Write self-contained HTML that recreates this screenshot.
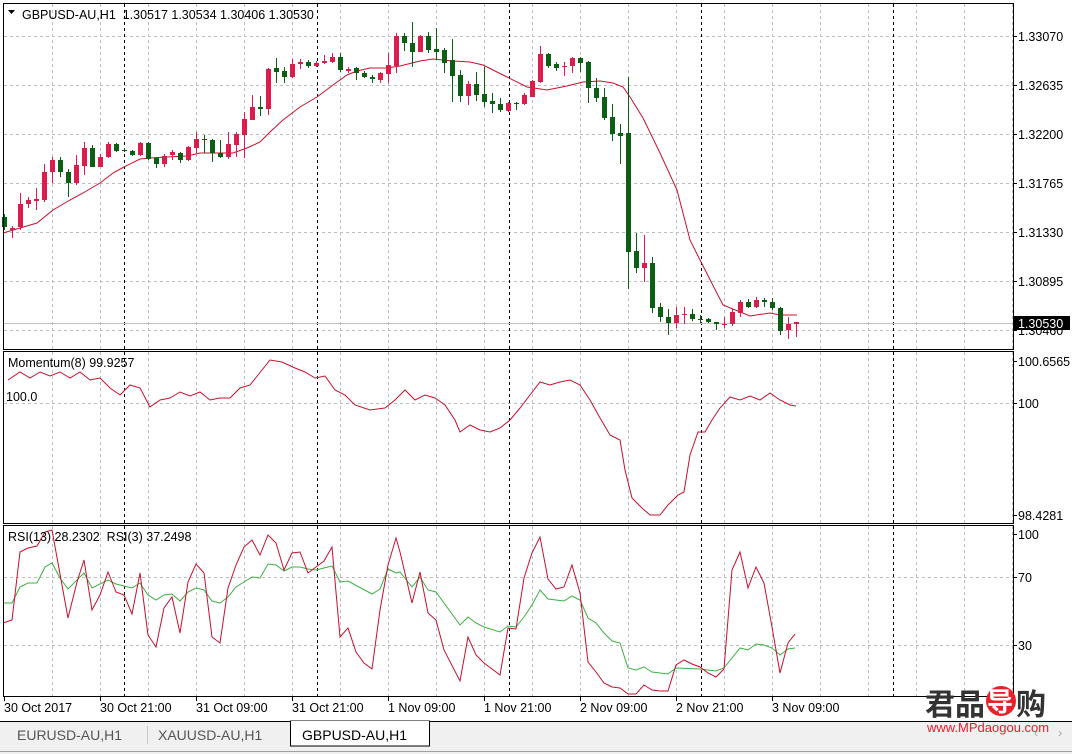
<!DOCTYPE html>
<html><head><meta charset="utf-8"><style>
html,body{margin:0;padding:0;background:#fff;width:1072px;height:754px;overflow:hidden}
svg text{font-family:"Liberation Sans","Noto Sans CJK SC",sans-serif;font-size:12.5px;fill:#000}
</style></head><body>
<svg id="s" width="1072" height="754" xmlns="http://www.w3.org/2000/svg">
<rect x="0" y="0" width="1072" height="754" fill="#fff"/>
<g id="grid" stroke="#bdbdbd" stroke-dasharray="3,3" stroke-width="1"></g>
<g id="days" stroke="#000" stroke-dasharray="3,3" stroke-width="1"></g>
<line x1="3" y1="323.5" x2="1013" y2="323.5" stroke="#c0c0c0"/>
<polyline id="ma" fill="none" stroke="#c8102e" stroke-width="1" points="3,233 20,228 37,223 53,210 70,200 83,193 100,183 113,173 124,167 140,159 150,158 167,157 187,156 200,153 217,153 233,153 247,148 260,142 270,132 283,120 300,107 317,97 333,85 347,75 357,71 370,68 387,68 400,66 420,61 433,59 453,61 470,62 483,65 507,77 527,87 547,90 567,86 583,82 600,81 613,83 623,87 630,97 643,118 660,153 677,190 690,240 700,260 723,305 750,316 770,313 780,315 797,315"/>
<g id="candles"></g>
<polyline fill="none" stroke="#c8102e" stroke-width="1" points="8,380 20,372 30,378 40,372 50,376 60,372 70,378 80,372 90,380 100,378 110,388 120,395 130,385 140,388 150,407 160,400 170,398 180,392 190,396 200,392 210,400 220,398 230,398 240,388 250,385 262,370 270,360 282,362 295,368 305,372 315,378 325,376 335,390 345,395 355,405 370,410 385,408 395,400 405,390 415,400 425,395 435,398 445,405 455,420 460,432 470,425 480,430 490,432 500,428 510,420 520,408 530,395 540,382 550,385 560,382 570,380 580,385 590,400 600,418 610,435 620,440 625,470 632,498 642,508 650,515 660,515 668,505 678,495 684,492 690,455 698,432 705,432 712,420 720,408 730,397 740,400 750,396 760,400 770,393 780,400 790,405 796,406"/>
<polyline fill="none" stroke="#3cb043" stroke-width="1" points="3,603 12,603 20,587 28,583 37,583 45,567 52,563 60,578 68,589 84,573 92,588 108,580 116,584 132,588 140,583 148,595 156,600 164,595 172,594 180,601 188,592 196,588 204,590 212,601 220,603 228,597 236,587 252,577 260,578 268,564 276,565 284,571 292,567 300,567 308,569 316,570 332,566 340,582 348,581 372,594 380,589 388,569 396,573 400,572 412,587 420,577 428,590 436,592 460,625 468,617 476,623 484,627 500,632 508,626 516,627 524,617 532,605 540,590 548,599 564,601 572,596 580,600 588,618 596,623 604,633 612,641 620,643 628,668 636,670 644,667 652,672 668,674 676,668 700,669 716,671 724,668 740,648 748,650 756,644 764,645 772,648 780,655 788,649 795,648"/>
<polyline fill="none" stroke="#c8102e" stroke-width="1" points="3,623 12,620 20,552 28,548 37,546 45,532 52,530 68,618 77,582 84,560 92,610 100,595 108,572 116,592 124,595 132,614 140,573 148,635 156,647 164,608 172,597 180,633 188,582 196,564 204,573 212,637 220,643 228,588 236,565 244,547 252,540 260,555 268,535 276,543 284,570 292,553 300,552 308,573 316,567 324,561 332,547 340,637 348,628 356,652 364,663 372,669 380,610 388,565 396,538 400,552 412,603 420,572 428,613 436,620 444,650 460,681 468,637 476,655 484,663 500,675 508,628 516,629 524,578 532,553 540,537 548,579 556,589 564,587 572,565 580,593 588,662 596,672 604,683 612,687 620,688 628,694 636,694 644,685 652,690 660,691 668,691 676,665 684,660 692,664 700,667 708,673 716,677 724,669 732,570 740,552 748,588 756,567 764,583 772,627 780,673 788,643 795,634"/>
<!-- frames -->
<rect x="3.5" y="3.5" width="1010" height="346" fill="none" stroke="#000"/>
<rect x="3.5" y="351.5" width="1010" height="172" fill="none" stroke="#000"/>
<rect x="3.5" y="525.5" width="1010" height="171" fill="none" stroke="#000"/>
<g id="ticks" stroke="#000"></g>
<!-- header -->
<path d="M8,10 L15,10 L11.5,14 Z" fill="#000"/>
<text x="22" y="19" xml:space="preserve">GBPUSD-AU,H1  1.30517 1.30534 1.30406 1.30530</text>
<text x="8" y="367">Momentum(8) 99.9257</text>
<text x="6" y="401">100.0</text>
<text x="8" y="541" xml:space="preserve">RSI(13) 28.2302  RSI(3) 37.2498</text>
<!-- right axis -->
<text x="1018" y="41">1.33070</text>
<text x="1018" y="90">1.32635</text>
<text x="1018" y="139">1.32200</text>
<text x="1018" y="188">1.31765</text>
<text x="1018" y="237">1.31330</text>
<text x="1018" y="286">1.30895</text>
<text x="1018" y="335">1.30460</text>
<rect x="1014" y="316" width="56" height="14" fill="#000"/>
<text x="1018" y="328" style="fill:#fff">1.30530</text>
<text x="1018" y="366">100.6565</text>
<text x="1018" y="408">100</text>
<text x="1018" y="520">98.4281</text>
<text x="1018" y="539">100</text>
<text x="1018" y="582">70</text>
<text x="1018" y="650">30</text>
<!-- time axis -->
<text x="4" y="712">30 Oct 2017</text>
<text x="100" y="712">30 Oct 21:00</text>
<text x="196" y="712">31 Oct 09:00</text>
<text x="292" y="712">31 Oct 21:00</text>
<text x="388" y="712">1 Nov 09:00</text>
<text x="484" y="712">1 Nov 21:00</text>
<text x="580" y="712">2 Nov 09:00</text>
<text x="676" y="712">2 Nov 21:00</text>
<text x="772" y="712">3 Nov 09:00</text>
<!-- tabs -->
<rect x="0" y="721" width="1072" height="33" fill="#f0f0f0"/>
<line x1="0" y1="721.5" x2="1072" y2="721.5" stroke="#000"/>
<line x1="0" y1="751.5" x2="1072" y2="751.5" stroke="#a0a0a0"/>
<line x1="147.5" y1="726" x2="147.5" y2="744" stroke="#c8c8c8"/>
<rect x="290.5" y="721" width="139" height="25" fill="#fff" stroke="#000"/>
<line x1="291" y1="721.5" x2="429" y2="721.5" stroke="#fff"/>
<text x="17" y="740" style="font-size:14px;fill:#555">EURUSD-AU,H1</text>
<text x="158" y="740" style="font-size:14px;fill:#555">XAUUSD-AU,H1</text>
<text x="302" y="740" style="font-size:14px">GBPUSD-AU,H1</text>
<text x="1034" y="737" style="fill:#aaa">‹</text><text x="1058" y="737" style="fill:#aaa">›</text>
<!-- watermark -->
<text x="925" y="715" style="font-size:30px;font-weight:bold;fill:#333">君品</text>
<circle cx="1001" cy="701" r="15" fill="#e8202a"/>
<text x="987" y="711" style="font-size:26px;font-weight:bold;fill:#fff">导</text>
<text x="1016" y="715" style="font-size:30px;font-weight:bold;fill:#333">购</text>
<text x="927" y="732" style="font-size:13px;fill:#e8202a">www.MPdaogou.com</text>
</svg>
<script>
var NS="http://www.w3.org/2000/svg";
function el(p,t,a){var e=document.createElementNS(NS,t);for(var k in a)e.setAttribute(k,a[k]);p.appendChild(e);return e;}
var g=document.getElementById('grid');
for(var x=52;x<1013;x+=48){[[4,349],[352,523],[526,696]].forEach(function(r){el(g,'line',{x1:x+.5,y1:r[0],x2:x+.5,y2:r[1]});});}
[36,85,134,183,232,281,330].forEach(function(y){el(g,'line',{x1:4,y1:y+.5,x2:1013,y2:y+.5});});
[403,577,645].forEach(function(y){el(g,'line',{x1:4,y1:y+.5,x2:1013,y2:y+.5});});
var d=document.getElementById('days');
[124,317,509,701,893].forEach(function(x){el(d,'line',{x1:x+.5,y1:4,x2:x+.5,y2:696});});
var tk=document.getElementById('ticks');
[36,85,134,183,232,281,330,361,403,515,534,577,645].forEach(function(y){el(tk,'line',{x1:1013,y1:y+.5,x2:1017,y2:y+.5});});
[4,100,196,292,388,484,580,676,772].forEach(function(x){el(tk,'line',{x1:x+.5,y1:697,x2:x+.5,y2:701});});
var C=[
"g214,217,227,230","r226,228,230,238","r193,204,227,230","r197,200,204,208","r188,199,201,210","r164,172,200,202","r157,160,172,183","g157,160,172,177","g169,172,183,197","r155,165,183,185",
"r142,148,166,175","g145,148,167,167","r154,157,167,167","r142,144,157,158","g143,144,151,152","g148,150,151,152","g150,151,155,156","r142,143,155,156","g142,143,159,160","g157,158,164,168",
"r154,156,164,167","r150,152,155,160","g152,153,160,163","r146,147,160,161","r132,139,148,153","g135,139,140,153","g139,140,153,162","g140,153,157,158","r132,144,157,159","r132,134,145,157",
"r112,119,135,158","r95,107,120,120","g96,107,109,116","r68,69,109,115","g58,68,72,83","g67,71,77,83","r59,64,77,78","r59,62,64,69","g60,62,66,68","r61,63,66,67",
"r55,61,63,64","r53,57,62,63","g53,57,70,72","r67,69,71,73","g67,68,73,80","g71,73,77,78","g75,77,79,83","r72,73,80,83","r53,65,74,83","r33,36,66,73",
"g33,36,43,51","g22,43,52,67","r35,36,52,52","g32,36,50,53","g28,49,52,60","g48,50,63,73","g39,60,76,102","g70,75,96,102","r81,84,96,105","g72,84,95,101",
"g67,94,102,107","g93,101,104,113","g98,104,110,112","r102,103,111,112","g102,103,104,110","r93,95,104,105","r80,81,97,97","r46,54,82,83","g53,54,66,68","g62,64,68,71",
"r62,66,67,76","r57,58,66,73","g57,58,63,72","g61,62,88,103","g78,88,98,102","g88,97,118,120","g104,117,134,141","g124,133,136,164","g77,133,252,289","g233,251,268,273",
"r235,263,268,282","g257,263,308,313","g303,307,317,322","g309,317,323,335","r307,315,323,328","r307,314,315,324","g309,314,319,321","g315,319,320,323","g318,319,322,323","g322,322,324,330",
"r317,324,325,328","r309,312,324,326","r300,302,313,317","g299,302,307,308","r297,300,307,308","g298,300,302,307","g298,302,308,310","g307,308,331,335","r317,324,330,339","r322,322,324,337"];
var cg=document.getElementById('candles');
C.forEach(function(s,i){var col=s[0]=='r'?'#d61f4b':'#0a5f12';var v=s.slice(1).split(',').map(Number);var x=4+8*i;
el(cg,'line',{x1:x+.5,y1:v[0],x2:x+.5,y2:v[3],stroke:col});
var h=Math.max(1,v[2]-v[1]);el(cg,'rect',{x:x-2,y:v[1],width:5,height:h,fill:col});});
</script>
</body></html>
